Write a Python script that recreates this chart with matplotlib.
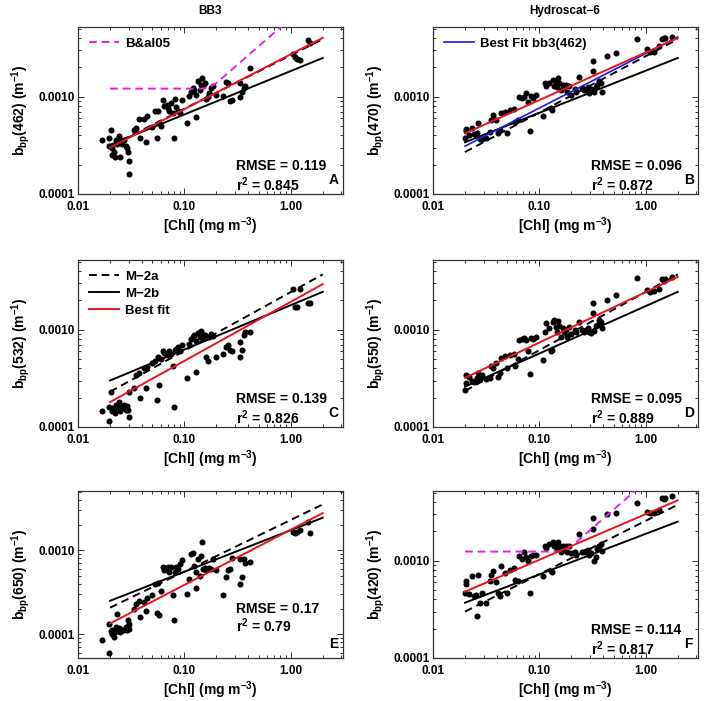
import matplotlib.pyplot as plt
import numpy as np
from matplotlib.ticker import NullFormatter

plt.rcParams['font.family'] = 'Liberation Sans'
plt.rcParams['font.weight'] = 'bold'
plt.rcParams['axes.labelweight'] = 'bold'
plt.rcParams['mathtext.fontset'] = 'custom'
plt.rcParams['mathtext.rm'] = 'Liberation Sans:bold'
plt.rcParams['mathtext.bf'] = 'Liberation Sans:bold'
plt.rcParams['mathtext.it'] = 'Liberation Sans:bold'
plt.rcParams['mathtext.default'] = 'bf'

# ---- data --------------------------------------------------------------
# chlorophyll (mg m^-3), BB3 stations
chl_bb3 = [0.0167, 0.0194, 0.0196, 0.0204, 0.0211, 0.0211, 0.0219, 0.0224, 0.023, 0.0235,
           0.0244, 0.0253, 0.025, 0.0262, 0.027, 0.0282, 0.029, 0.0295, 0.0303, 0.030,
           0.0338, 0.035, 0.0376, 0.0385, 0.042, 0.0434, 0.045, 0.050, 0.053, 0.055,
           0.056, 0.058, 0.060, 0.063, 0.065, 0.068, 0.070, 0.072, 0.075, 0.078,
           0.0805, 0.082, 0.083, 0.087, 0.091, 0.095, 0.107, 0.111, 0.115, 0.120,
           0.124, 0.129, 0.130, 0.134, 0.139, 0.144, 0.147, 0.151, 0.156, 0.160,
           0.166, 0.172, 0.178, 0.185, 0.200, 0.230, 0.247, 0.256, 0.270, 0.280,
           0.330, 0.337, 0.350, 0.360, 0.370, 0.410, 1.05, 1.09, 1.14, 1.22,
           1.46, 1.52]

# bbp values in 1e-3 m^-1
bbp462_bb3 = [0.355, 0.375, 0.31, 0.46, 0.30, 0.25, 0.27, 0.24, 0.36, 0.33,
              0.39, 0.355, 0.24, 0.33, 0.36, 0.31, 0.30, 0.27, 0.22, 0.16,
              0.46, 0.48, 0.59, 0.375, 0.59, 0.34, 0.63, 0.49, 0.72, 0.38,
              0.72, 0.54, 0.50, 0.93, 0.81, 0.83, 0.76, 0.72, 0.86, 0.68,
              0.38, 0.95, 0.78, 0.72, 0.68, 0.93, 0.54, 1.02, 1.13, 1.23,
              1.18, 0.62, 1.05, 1.44, 1.16, 1.33, 1.56, 1.28, 1.38, 0.95,
              1.00, 1.10, 1.23, 1.28, 1.05, 1.02, 1.43, 1.38, 0.91, 0.93,
              1.00, 1.38, 1.13, 1.23, 1.28, 1.97, 2.75, 2.56, 2.45, 2.37,
              3.80, 3.60]
bbp532_bb3 = [0.145, 0.16, 0.114, 0.23, 0.157, 0.145, 0.15, 0.14, 0.17, 0.16,
              0.18, 0.155, 0.145, 0.16, 0.17, 0.15, 0.165, 0.15, 0.128, 0.23,
              0.25, 0.34, 0.36, 0.20, 0.40, 0.25, 0.41, 0.45, 0.48, 0.19,
              0.52, 0.27, 0.50, 0.60, 0.58, 0.55, 0.57, 0.60, 0.56, 0.42,
              0.16, 0.62, 0.64, 0.66, 0.60, 0.70, 0.32, 0.72, 0.80, 0.85,
              0.88, 0.37, 0.76, 0.92, 0.85, 0.98, 0.90, 0.82, 0.88, 0.52,
              0.48, 0.85, 0.90, 0.86, 0.52, 0.56, 0.67, 0.70, 0.62, 0.60,
              0.52, 0.75, 0.62, 0.88, 0.95, 0.95, 2.60, 1.72, 1.70, 2.60,
              1.90, 1.90]
bbp650_bb3 = [0.085, 0.134, 0.059, 0.11, 0.10, 0.112, 0.093, 0.105, 0.122, 0.176,
              0.12, 0.112, 0.105, 0.112, 0.112, 0.122, 0.112, 0.147, 0.115, 0.134,
              0.20, 0.23, 0.25, 0.16, 0.24, 0.19, 0.27, 0.29, 0.40, 0.18,
              0.41, 0.17, 0.33, 0.63, 0.58, 0.60, 0.63, 0.55, 0.63, 0.29,
              0.147, 0.55, 0.63, 0.60, 0.68, 0.76, 0.30, 0.45, 0.90, 0.92,
              0.65, 0.36, 0.55, 0.78, 0.50, 0.85, 1.26, 0.60, 0.62, 0.58,
              0.60, 0.62, 0.60, 0.78, 0.58, 0.29, 0.48, 0.58, 0.60, 0.82,
              0.40, 0.78, 0.48, 0.78, 0.70, 0.72, 1.65, 1.60, 1.65, 1.75,
              2.20, 1.60]

# chlorophyll (mg m^-3), Hydroscat-6 stations
chl_hs = [0.0199, 0.0203, 0.0206, 0.022, 0.0232, 0.0245, 0.0252, 0.0258, 0.0266, 0.0275,
          0.029, 0.0318, 0.0345, 0.0353, 0.037, 0.0393, 0.041, 0.0423, 0.044, 0.0471,
          0.050, 0.0525, 0.0584, 0.058, 0.063, 0.065, 0.068, 0.0724, 0.075, 0.078,
          0.081, 0.083, 0.087, 0.093, 0.109, 0.113, 0.115, 0.124, 0.128, 0.131,
          0.134, 0.138, 0.142, 0.147, 0.150, 0.154, 0.160, 0.165, 0.171, 0.178,
          0.183, 0.191, 0.200, 0.215, 0.220, 0.235, 0.250, 0.260, 0.273, 0.285,
          0.295, 0.304, 0.317, 0.317, 0.325, 0.339, 0.350, 0.365, 0.377, 0.390,
          0.435, 0.520, 0.830, 1.03, 1.10, 1.20, 1.32, 1.42, 1.48, 1.53,
          1.76]
bbp470_hs = [0.375, 0.47, 0.44, 0.40, 0.48, 0.41, 0.40, 0.42, 0.54, 0.37,
             0.37, 0.38, 0.43, 0.58, 0.65, 0.58, 0.42, 0.46, 0.68, 0.70,
             0.42, 0.73, 0.55, 0.75, 0.58, 1.00, 0.96, 1.00, 1.09, 0.88,
             0.44, 1.02, 0.96, 1.05, 0.63, 1.38, 1.30, 1.38, 0.76, 0.73,
             1.50, 1.30, 1.44, 1.25, 1.56, 1.38, 1.18, 1.33, 1.25, 1.33,
             1.12, 1.30, 1.05, 1.20, 1.13, 1.60, 1.22, 1.18, 1.20, 1.25,
             1.10, 1.20, 2.30, 1.82, 1.13, 1.25, 1.33, 1.45, 1.38, 1.13,
             2.60, 2.82, 3.87, 3.10, 2.90, 2.90, 3.30, 3.90, 4.00, 4.00,
             4.10]
bbp550_hs = [0.24, 0.34, 0.28, 0.33, 0.30, 0.29, 0.30, 0.32, 0.36, 0.31,
             0.34, 0.31, 0.32, 0.42, 0.40, 0.45, 0.33, 0.36, 0.51, 0.54,
             0.40, 0.55, 0.42, 0.56, 0.50, 0.78, 0.80, 0.82, 0.78, 0.60,
             0.35, 0.82, 0.80, 0.85, 0.49, 0.95, 1.16, 1.05, 0.60, 0.62,
             1.21, 1.26, 1.07, 0.95, 1.22, 1.10, 0.85, 1.05, 0.95, 1.00,
             0.85, 1.07, 0.90, 1.00, 0.95, 1.20, 1.00, 0.95, 1.00, 1.05,
             0.95, 0.92, 1.86, 1.47, 0.98, 1.10, 1.12, 1.25, 1.20, 1.05,
             2.00, 2.26, 3.40, 2.55, 2.45, 2.50, 2.60, 3.30, 3.20, 3.35,
             3.50]
bbp420_hs = [0.47, 0.62, 0.57, 0.45, 0.70, 0.43, 0.44, 0.27, 0.72, 0.37,
             0.47, 0.37, 0.62, 0.72, 0.79, 0.60, 0.47, 0.43, 0.89, 0.75,
             0.47, 0.80, 0.64, 0.85, 0.62, 1.13, 1.05, 1.22, 1.08, 1.00,
             0.47, 1.12, 1.15, 1.14, 0.70, 1.43, 1.35, 1.50, 0.79, 0.76,
             1.56, 1.43, 1.50, 1.32, 1.56, 1.43, 1.22, 1.43, 1.30, 1.43,
             1.22, 1.40, 1.20, 1.22, 1.15, 1.90, 1.22, 1.22, 1.25, 1.30,
             1.15, 1.20, 2.73, 2.14, 1.00, 1.10, 1.32, 1.43, 1.50, 1.25,
             3.00, 3.07, 3.90, 3.20, 3.07, 3.07, 3.30, 4.40, 4.30, 4.40,
             4.60]

# model / fit lines: values at chl = 0.02 and 2.0 (1e-3 m^-1)
line_chl = [0.02, 2.0]
m2a = {'A': [0.31, 3.9], 'B': [0.27, 3.9], 'C': [0.23, 3.7],
       'D': [0.235, 3.7], 'E': [0.207, 3.53], 'F': [0.30, 3.76]}
m2b = {'A': [0.32, 2.5], 'B': [0.34, 2.5], 'C': [0.30, 2.45],
       'D': [0.26, 2.45], 'E': [0.25, 2.45], 'F': [0.37, 2.52]}
best = {'A': [0.30, 4.03], 'B': [0.42, 4.0], 'C': [0.18, 2.94],
        'D': [0.32, 3.49], 'E': [0.134, 2.78], 'F': [0.48, 4.17]}
bb3_462_fit = [0.31, 4.1]          # blue line, panel B

# B&al05 curve (panels A and F)
bal05_chl = [0.02, 0.15, 0.17, 0.20, 1.0]
bal05_A = [1.21, 1.21, 1.26, 1.38, 6.4]
bal05_F = [1.24, 1.24, 1.28, 1.40, 6.5]

stats = {'A': ('0.119', '0.845'), 'B': ('0.096', '0.872'), 'C': ('0.139', '0.826'),
         'D': ('0.095', '0.889'), 'E': ('0.17', '0.79'), 'F': ('0.114', '0.817')}
wavelengths = {'A': 462, 'B': 470, 'C': 532, 'D': 550, 'E': 650, 'F': 420}

# ---- figure -------------------------------------------------------------
W, H = 706, 701
fig = plt.figure(figsize=(W / 100, H / 100), dpi=100)

col_x = [78 / W, 433 / W]
row_top = [27, 260, 491]
ax_w, ax_h = 265 / W, 167 / H

panels = [('A', 0, 0, chl_bb3, bbp462_bb3), ('B', 0, 1, chl_hs, bbp470_hs),
          ('C', 1, 0, chl_bb3, bbp532_bb3), ('D', 1, 1, chl_hs, bbp550_hs),
          ('E', 2, 0, chl_bb3, bbp650_bb3), ('F', 2, 1, chl_hs, bbp420_hs)]

fs = 8.5
for key, r, c, chl, bbp in panels:
    ax = fig.add_axes([col_x[c], 1 - (row_top[r] + 167) / H, ax_w, ax_h])
    ax.set_xscale('log')
    ax.set_yscale('log')

    ax.scatter(chl, np.array(bbp) * 1e-3, s=19, color='black', zorder=2, linewidths=0)

    ax.plot(line_chl, np.array(m2a[key]) * 1e-3, color='black', lw=1.4,
            dashes=(4, 2.5), label='M\u22122a', zorder=3)
    ax.plot(line_chl, np.array(m2b[key]) * 1e-3, color='black', lw=1.4,
            label='M\u22122b', zorder=3)
    if key == 'B':
        ax.plot(line_chl, np.array(bb3_462_fit) * 1e-3, color='#1a1adc', lw=1.2,
                label='Best Fit bb3(462)', zorder=4)
    ax.plot(line_chl, np.array(best[key]) * 1e-3, color='#e8141e', lw=1.4,
            label='Best fit', zorder=5)
    if key in ('A', 'F'):
        bal = bal05_A if key == 'A' else bal05_F
        ax.plot(bal05_chl, np.array(bal) * 1e-3, color='#e81ee8', lw=1.4,
                dashes=(4, 2.5), label='B&al05', zorder=4)

    ax.set_xlim(0.01, 3.1)
    if key == 'E':
        ax.set_ylim(5.2e-5, 5.1e-3)
    else:
        ax.set_ylim(1e-4, 5.2e-3)

    ax.set_xticks([0.01, 0.1, 1.0], ['0.01', '0.10', '1.00'])
    ax.set_yticks([1e-4, 1e-3], ['0.0001', '0.0010'])
    ax.xaxis.set_minor_formatter(NullFormatter())
    ax.yaxis.set_minor_formatter(NullFormatter())
    ax.tick_params(which='both', direction='in', top=True, right=True,
                   labelsize=fs, width=0.7, colors='#333333', labelcolor='black')
    ax.tick_params(which='major', length=4)
    ax.tick_params(axis='x', which='major', pad=5)
    ax.tick_params(axis='y', which='major', pad=2)
    ax.tick_params(which='minor', length=2)
    for sp in ax.spines.values():
        sp.set_linewidth(0.9)
        sp.set_color('#333333')

    ax.set_xlabel(r'[Chl] (mg m$^{-3}$)', fontsize=10, labelpad=2)
    ax.set_ylabel(r'b$_{bp}$(%d) (m$^{-1}$)' % wavelengths[key], fontsize=10, labelpad=5)

    rm, r2 = stats[key]
    y1, y2 = (0.295, 0.193) if key == 'E' else (0.168, 0.056)
    ax.text(0.596, y1, 'RMSE = ' + rm, transform=ax.transAxes, fontsize=10, va='center')
    ax.text(0.596, y2, r'r$^2$ = ' + r2, transform=ax.transAxes, fontsize=10, va='center')
    ax.text(0.965, 0.085, key, transform=ax.transAxes, fontsize=10,
            ha='center', va='center')

    handles, labels = ax.get_legend_handles_labels()
    if key == 'A':
        sel = ['B&al05']
    elif key == 'B':
        sel = ['Best Fit bb3(462)']
    elif key == 'C':
        sel = ['M\u22122a', 'M\u22122b', 'Best fit']
    else:
        sel = []
    if sel:
        hs = [handles[labels.index(s)] for s in sel]
        ax.legend(hs, sel, loc='upper left', frameon=False, fontsize=9.5,
                  handlelength=2.3, handletextpad=0.5, borderaxespad=0.4,
                  labelspacing=0.35)

fig.text((78 + 132) / W, 1 - 11 / H, 'BB3', ha='center', va='center', fontsize=fs)
fig.text((433 + 132) / W, 1 - 11 / H, 'Hydroscat\u22126', ha='center', va='center', fontsize=fs)

fig.savefig('out.png', dpi=100)
